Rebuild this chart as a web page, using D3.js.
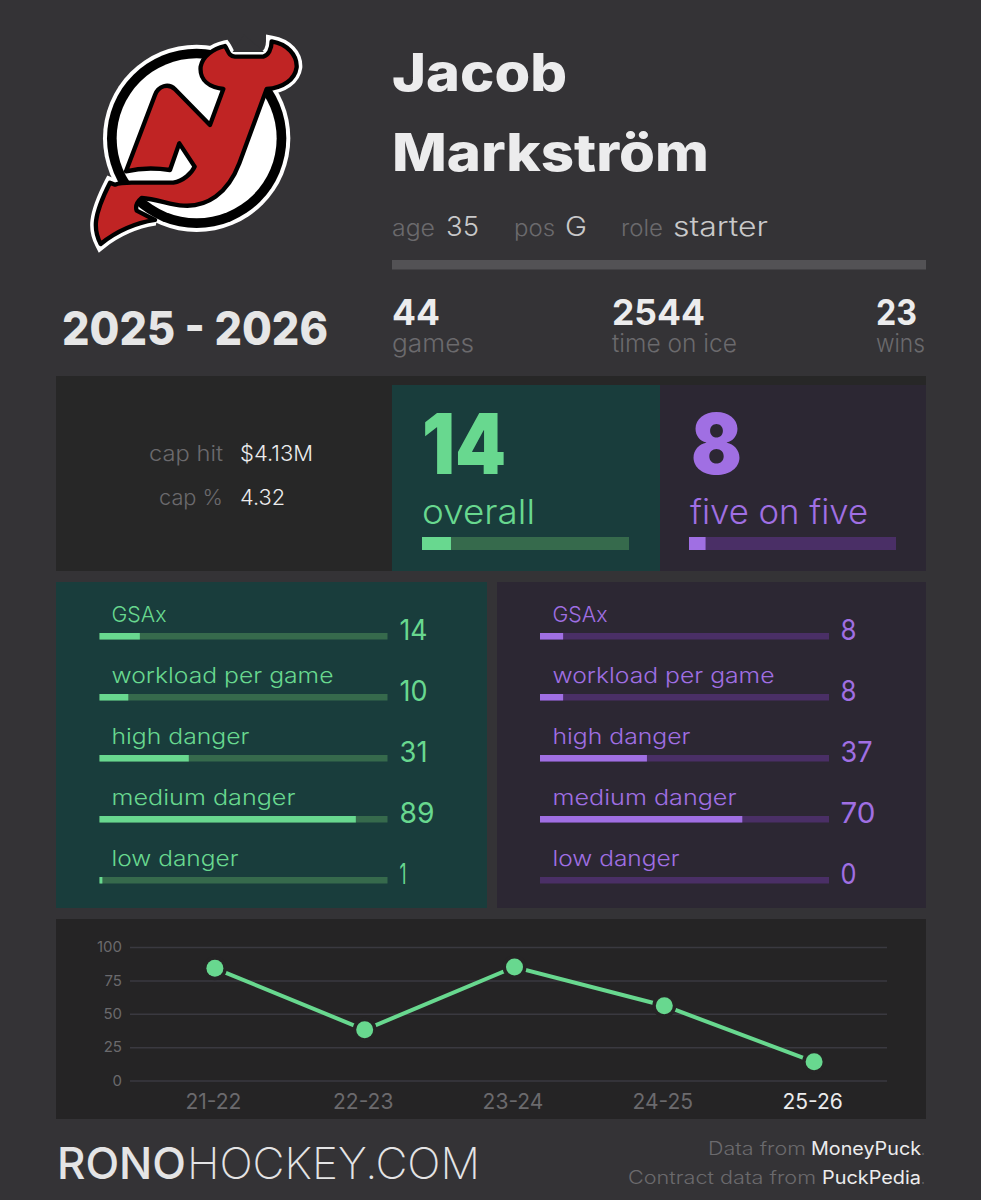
<!DOCTYPE html>
<html>
<head>
<meta charset="utf-8">
<script src="https://cdn.jsdelivr.net/npm/d3@7"></script>
<style>
html, body { margin: 0; background: #343336; }
svg { display: block; }
text { font-family: Inter, "Open Sans", sans-serif; }
</style>
</head>
<body>
<script>
//Player card values
var metricLabels = ["GSAx", "workload per game", "high danger", "medium danger", "low danger"];
var overallValues = [14, 10, 31, 89, 1];
var fiveOnFiveValues = [8, 8, 37, 70, 0];
var overallScore = 14;
var fiveOnFiveScore = 8;

//Trend line
var seasons = ["21-22", "22-23", "23-24", "24-25", "25-26"];
var seasonScores = [84, 38, 85, 56, 14];
var scoreTicks = [0, 25, 50, 75, 100];

//Width and height
var w = 981;
var h = 1200;

//Colors
var bg = "#343336";
var green = "#68d88f", greenTrack = "#366a4c", greenPanel = "#193d3c";
var purple = "#a06fe3", purpleTrack = "#4a2f66", purplePanel = "#2c2733";
var darkPanel = "#252425";
var dim = "#6b6a6d", soft = "#c9c9ca", bright = "#ececed";

//Create SVG element
var svg = d3.select("body")
            .append("svg")
            .attr("width", w)
            .attr("height", h);

//Text helper, textLength keeps the widths of the original typeface
function label(parent, str, x, y, len, size, weight, fill, anchor) {
    var t = parent.append("text")
        .attr("x", x)
        .attr("y", y)
        .attr("font-size", size)
        .attr("font-weight", weight)
        .attr("fill", fill)
        .attr("text-anchor", anchor || "start")
        .text(str);
    if (len) {
        t.attr("textLength", len).attr("lengthAdjust", "spacingAndGlyphs");
    }
    return t;
}

function panel(x, y, width, height, fill) {
    svg.append("rect")
       .attr("x", x).attr("y", y)
       .attr("width", width).attr("height", height)
       .attr("fill", fill);
}

//Percentile bar with its track
function pctBar(x0, x1, y, height, value, fill, track) {
    var x = d3.scaleLinear().domain([0, 100]).range([x0, x1]);
    panel(x(0), y, x(100) - x(0), height, track);
    panel(x(0), y, x(value) - x(0), height, fill);
}

//Logo
var logo = svg.append("g").attr("transform", "translate(60,20) scale(0.3333)");
var devil = "M495 78 C505 92 505 108 525 110 L610 110 C625 106 635 88 635 64 C682 72 712 105 710 142 " +
            "C705 178 670 204 620 207 L538 430 C503 522 440 562 370 557 C330 554 290 537 245 534 " +
            "C232 545 226 560 230 572 L285 600 C240 607 185 622 122 672 C100 630 98 590 150 488 L165 494 " +
            "C180 488 200 488 215 488 L340 488 C370 483 395 460 404 440 L358 370 L330 450 " +
            "C290 444 240 444 198 454 L285 225 C295 198 325 188 345 208 L450 315 L490 207 " +
            "C450 202 418 182 422 140 C428 108 460 86 495 78 Z";
logo.append("path").attr("d", devil).attr("fill", "#fff").attr("stroke", "#fff")
    .attr("stroke-width", 34).attr("stroke-linejoin", "miter").attr("stroke-miterlimit", 3);
logo.append("circle").attr("cx", 410).attr("cy", 355).attr("r", 281).attr("fill", "#fff");
logo.append("circle").attr("cx", 410).attr("cy", 355).attr("r", 269).attr("fill", "#000");
logo.append("circle").attr("cx", 410).attr("cy", 355).attr("r", 240).attr("fill", "#fff");
logo.append("path").attr("d", "M552 44 L518 96 L612 96 Z").attr("fill", bg);
logo.append("path").attr("d", devil).attr("fill", "#c02424").attr("stroke", "#000")
    .attr("stroke-width", 13).attr("stroke-linejoin", "round");

//Name block
label(svg, "Jacob", 392, 91, 175, 52, 800, bright);
label(svg, "Markström", 392, 171, 317, 52, 800, bright);

label(svg, "age", 392, 236, 43, 23, 300, dim);
label(svg, "35", 446, 236, 33, 27, 300, soft);
label(svg, "pos", 514, 236, 41, 23, 300, dim);
label(svg, "G", 565, 236, 22, 27, 300, soft);
label(svg, "role", 621, 236, 42, 23, 300, dim);
label(svg, "starter", 673, 236, 95, 27, 300, soft);
panel(392, 260, 534, 9.5, "#535255");

//Season
label(svg, "2025 - 2026", 62, 345, 266, 46, 800, "#e6e6e6");

label(svg, "44", 392, 325, 48, 36, 700, bright);
label(svg, "games", 392, 352, 82, 25, 300, dim);
label(svg, "2544", 612, 325, 93, 36, 700, bright);
label(svg, "time on ice", 612, 352, 125, 25, 300, dim);
label(svg, "23", 876, 325, 41, 36, 700, bright);
label(svg, "wins", 876, 352, 49, 25, 300, dim);

//Contract and overall panels
panel(56, 376, 870, 195, "#272727");
panel(392, 385, 268, 186, greenPanel);
panel(660, 385, 266, 186, purplePanel);

label(svg, "cap hit", 223, 461, 74, 22, 300, dim, "end");
label(svg, "$4.13M", 240, 461, 73, 22, 300, bright);
label(svg, "cap %", 223, 505, 64, 22, 300, dim, "end");
label(svg, "4.32", 240, 505, 45, 22, 300, bright);

label(svg, overallScore, 422, 474, 84, 84, 900, green);
label(svg, "overall", 422, 524, 113, 34, 300, green);
pctBar(422, 629, 537, 13, overallScore, green, greenTrack);

label(svg, fiveOnFiveScore, 691, 474, 51, 84, 900, purple);
label(svg, "five on five", 690, 524, 178, 34, 300, purple);
pctBar(689, 896, 537, 13, fiveOnFiveScore, purple, purpleTrack);

//Metric panels
panel(56, 582, 431, 326, greenPanel);
panel(497, 582, 429, 326, purplePanel);

var labelWidths = [55, 222, 138, 184, 127];
var metricRow = d3.scalePoint().domain(metricLabels).range([0, 244]);

function valueWidth(v) {
    return String(v).length == 1 ? (v == 1 ? 7 : 16) : (v >= 70 ? 35 : v == 37 ? 32 : 28);
}

function metricPanel(values, labelX, barX0, barX1, valueX, fill, track) {
    metricLabels.forEach(function(name, i) {
        var dy = metricRow(name);
        label(svg, name, labelX, 622 + dy, labelWidths[i], 22, 300, fill);
        pctBar(barX0, barX1, 633 + dy, 6.5, values[i], fill, track);
        label(svg, values[i], valueX, 640 + dy, valueWidth(values[i]), 29, 400, fill);
    });
}

metricPanel(overallValues, 111.5, 99.5, 387.5, 399.5, green, greenTrack);
metricPanel(fiveOnFiveValues, 552.5, 540, 829, 840.5, purple, purpleTrack);

//Trend panel
panel(56, 919, 870, 200, darkPanel);

var xScale = d3.scalePoint().domain(seasons).range([140, 889]).padding(0.5);
var yScale = d3.scaleLinear().domain([0, 100]).range([1080.5, 947]);

var yAxis = d3.axisLeft(yScale).tickValues(scoreTicks).tickSize(-757).tickPadding(8);
var xAxis = d3.axisBottom(xScale).tickSize(0).tickPadding(14);

var gy = svg.append("g").attr("transform", "translate(130,0)").call(yAxis);
gy.select(".domain").remove();
gy.selectAll("line").attr("stroke", "#3a3940").attr("stroke-width", 1.5);
gy.selectAll("text").attr("fill", dim).attr("font-size", 15).style("font-family", "Inter");

var gx = svg.append("g").attr("transform", "translate(-2,1080.5)").call(xAxis);
gx.select(".domain").remove();
gx.selectAll("text")
  .attr("fill", function(d) { return d == "25-26" ? bright : dim; })
  .attr("font-size", 21)
  .style("font-family", "Inter");

var line = d3.line()
    .x(function(d, i) { return xScale(seasons[i]); })
    .y(function(d) { return yScale(d); });

svg.append("path")
   .datum(seasonScores)
   .attr("d", line)
   .attr("fill", "none")
   .attr("stroke", green)
   .attr("stroke-width", 4);

svg.selectAll("circle.season")
   .data(seasonScores)
   .enter()
   .append("circle")
   .attr("class", "season")
   .attr("cx", function(d, i) { return xScale(seasons[i]); })
   .attr("cy", function(d) { return yScale(d); })
   .attr("r", 8.5)
   .attr("fill", green)
   .attr("stroke", darkPanel)
   .attr("stroke-width", 7)
   .attr("paint-order", "stroke");

//Footer
label(svg, "RONO", 57, 1179, 129, 44, 500, "#e4e4e5");
label(svg, "HOCKEY.COM", 187, 1179, 293, 44, 200, "#e4e4e5");

label(svg, "Data from", 708, 1155, 98, 18, 300, dim);
label(svg, "MoneyPuck", 811, 1155, 110, 18, 400, bright);
label(svg, ".", 921, 1155, 4, 18, 300, dim);
label(svg, "Contract data from", 628, 1184, 188, 18, 300, dim);
label(svg, "PuckPedia", 822, 1184, 99, 18, 400, bright);
label(svg, ".", 921, 1184, 4, 18, 300, dim);
</script>
</body>
</html>
